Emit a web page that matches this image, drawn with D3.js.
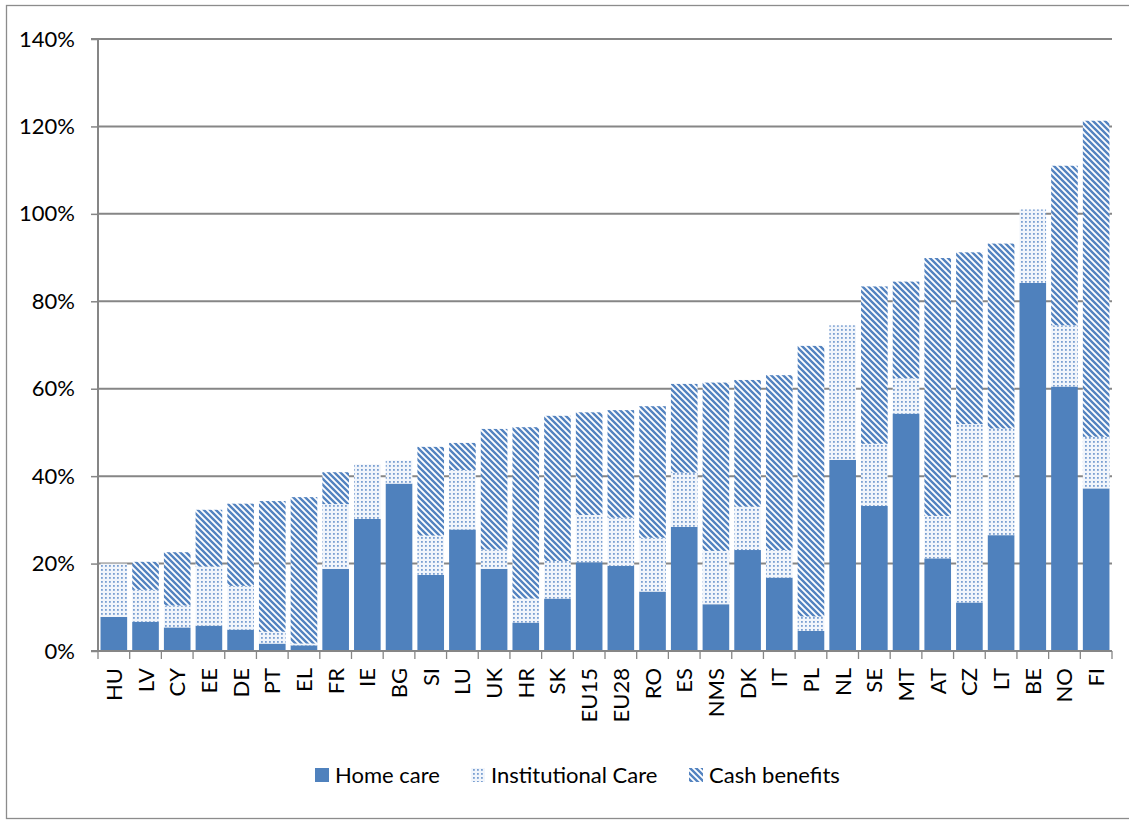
<!DOCTYPE html>
<html><head><meta charset="utf-8">
<script src="https://cdn.jsdelivr.net/npm/d3@7"></script>
<style>body{margin:0;background:#fff}svg{display:block}</style>
</head><body>
<svg id="c" width="1129" height="820"></svg>
<script>
const categories = ["HU","LV","CY","EE","DE","PT","EL","FR","IE","BG","SI","LU","UK","HR","SK","EU15","EU28","RO","ES","NMS","DK","IT","PL","NL","SE","MT","AT","CZ","LT","BE","NO","FI"];
const homeCare =      [7.8, 6.7, 5.4, 5.8, 4.9, 1.7, 1.3, 18.8, 30.2, 38.3, 17.4, 27.8, 18.8, 6.5, 12.0, 20.3, 19.5, 13.6, 28.4, 10.7, 23.1, 16.8, 4.6, 43.7, 33.2, 54.3, 21.2, 11.1, 26.5, 84.2, 60.5, 37.2];
const institutional = [12.2, 7.3, 5.0, 13.5, 10.0, 2.7, 0.4, 14.8, 12.5, 5.3, 9.0, 13.6, 4.4, 5.5, 8.6, 10.8, 11.0, 12.3, 12.4, 12.2, 9.9, 6.3, 3.3, 30.8, 14.2, 8.1, 9.7, 40.8, 24.4, 16.8, 14.0, 11.8];
const cashBenefits =  [0, 6.4, 12.2, 13.0, 18.8, 29.9, 33.5, 7.3, 0, 0, 20.3, 6.2, 27.6, 39.2, 33.2, 23.5, 24.6, 30.1, 20.3, 38.5, 29.0, 40.0, 61.9, 0, 36.0, 22.1, 59.0, 39.3, 42.3, 0, 36.5, 72.3];
const seriesNames = ["Home care","Institutional Care","Cash benefits"];
const yTicks = [0,20,40,60,80,100,120,140];

const svg = d3.select("#c");
const font = "Lato, 'Open Sans', sans-serif";
const blue = "#4F81BD";
const grid = "#868686";

// patterns
const defs = svg.append("defs");
const pd = defs.append("pattern").attr("id","dots").attr("patternUnits","userSpaceOnUse").attr("width",4).attr("height",4);
pd.append("rect").attr("width",4).attr("height",4).attr("fill","#f1f5fb");
pd.append("rect").attr("x",1).attr("y",1).attr("width",1.8).attr("height",1.8).attr("fill","#7a9fd1");
const ps = defs.append("pattern").attr("id","stripes").attr("patternUnits","userSpaceOnUse").attr("width",6).attr("height",6);
ps.append("rect").attr("width",6).attr("height",6).attr("fill","#fff");
ps.append("path").attr("d","M-1,-1 L7,7 M-4,2 L4,10 M2,-4 L10,4").attr("stroke","#5383c0").attr("stroke-width",2.4);
const fills = [blue, "url(#dots)", "url(#stripes)"];

// outer border
svg.append("rect").attr("x",6.5).attr("y",5.5).attr("width",1140).attr("height",813).attr("fill","none").attr("stroke","#8c8c8c").attr("stroke-width",1.3);

const L=98, R=1112, T=39, B=651;
const x = d3.scaleBand().domain(categories).range([L,R]).paddingInner(0.16).paddingOuter(0.08);
const y = d3.scaleLinear().domain([0,140]).range([B,T]);

// gridlines
svg.append("g").selectAll("line").data(yTicks.filter(d=>d>0)).join("line")
  .attr("x1",L).attr("x2",R).attr("y1",d=>y(d)).attr("y2",d=>y(d))
  .attr("stroke",grid).attr("stroke-width",2);

// stacked data
const rows = categories.map((c,i)=>({cat:c, home:homeCare[i], inst:institutional[i], cash:cashBenefits[i]}));
const stack = d3.stack().keys(["home","inst","cash"])(rows);
svg.append("g").selectAll("g").data(stack).join("g")
  .attr("fill",(d,i)=>fills[i])
  .selectAll("rect").data(d=>d).join("rect")
  .attr("x",d=>x(d.data.cat)).attr("width",x.bandwidth())
  .attr("y",d=>y(d[1])).attr("height",d=>Math.max(0,y(d[0])-y(d[1])));

// y axis
const yAxis = d3.axisLeft(y).tickValues(yTicks).tickFormat(d=>d+"%").tickSize(7).tickPadding(16);
const gy = svg.append("g").attr("transform",`translate(${L},0)`).call(yAxis);
gy.select(".domain").attr("stroke",grid).attr("stroke-width",2).attr("d",`M-7,${T}H0V${B}H-7`);
gy.selectAll(".tick line").attr("stroke",grid).attr("stroke-width",1.5);
gy.selectAll(".tick text").attr("font-family",font).attr("font-size",22).attr("fill","#000");

// x axis
svg.append("line").attr("x1",L).attr("x2",R).attr("y1",B).attr("y2",B).attr("stroke",grid).attr("stroke-width",2);
const step = x.step();
const bounds = categories.map((c,i)=>x(c) - x.paddingInner()*step/2);
bounds.push(R);
svg.append("g").selectAll("line").data(bounds).join("line")
  .attr("x1",d=>d).attr("x2",d=>d).attr("y1",B).attr("y2",B+8)
  .attr("stroke",grid).attr("stroke-width",1.3);
svg.append("g").selectAll("text").data(categories).join("text")
  .attr("transform",d=>`translate(${x(d)+x.bandwidth()/2+8},${B+17}) rotate(-90)`)
  .attr("text-anchor","end").attr("font-family",font).attr("font-size",22).attr("fill","#000")
  .text(d=>d);

// legend
const legX = [315, 471, 689];
const lg = svg.append("g");
seriesNames.forEach((n,i)=>{
  lg.append("rect").attr("x",legX[i]).attr("y",768).attr("width",14).attr("height",14).attr("fill",fills[i]);
  lg.append("text").attr("x",legX[i]+20).attr("y",783).attr("font-family",font).attr("font-size",22).attr("fill","#000").text(n);
});
</script>
</body></html>
